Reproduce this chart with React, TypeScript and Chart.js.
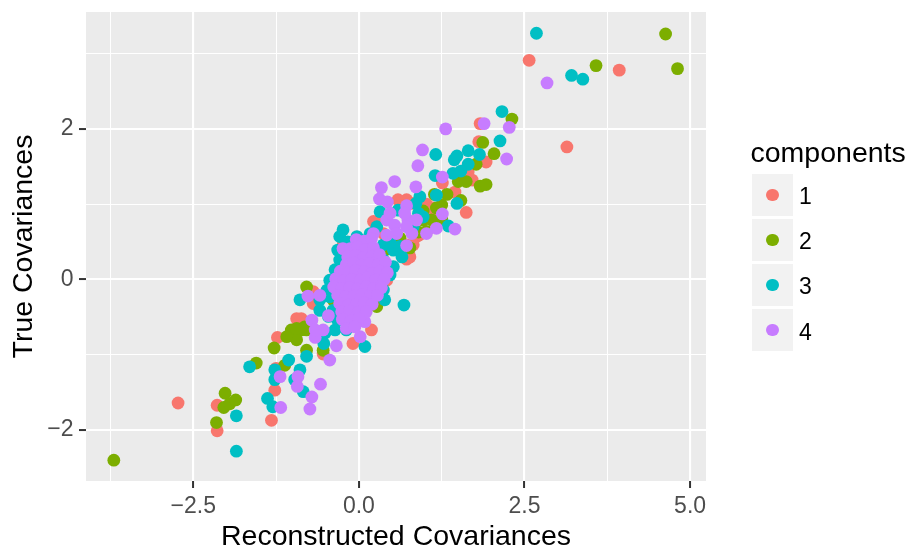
import React, { useEffect, useRef } from "react";
import { Chart, registerables } from "chart.js";

Chart.register(...registerables);

const seriesNames = ["1", "2", "3", "4"];
const seriesColors = ["#F8766D", "#7CAE00", "#00BFC4", "#C77CFF"];

const comp1: number[][] = [
  [2.57, 2.91], [3.93, 2.78], [3.14, 1.76], [1.83, 2.07], [1.81, 1.83], [1.92, 1.56],
  [1.65, 1.43], [1.71, 1.32], [1.26, 1.28], [1.45, 1.16], [1.62, 0.89], [0.72, 1.06],
  [0.59, 1.06], [1.02, 1.0], [1.12, 0.95], [0.8, 1.01], [1.1, 0.92], [0.91, 0.59],
  [0.87, 0.57], [0.72, 0.46], [0.77, 0.3], [0.72, 0.27], [0.22, 0.77], [0.27, 0.75],
  [0.37, 0.61], [0.82, 0.46], [-0.24, 0.46], [0.42, 0.57], [0.42, -0.01], [-0.69, -0.16],
  [-0.69, -0.32], [-0.94, -0.52], [-0.87, -0.52], [0.19, -0.67], [-2.73, -1.64], [-2.14, -1.67],
  [-2.14, -2.01], [-1.23, -0.77], [-1.32, -1.87], [-1.27, -1.47], [-1.25, -1.18], [-0.54, -0.99],
  [-0.09, -0.85], [-0.14, 0.13], [0.09, -0.14], [-0.29, -0.27], [0.24, 0.33], [0.02, -0.47],
];

const comp2: number[][] = [
  [4.63, 3.26], [3.58, 2.84], [4.81, 2.8], [2.31, 2.13], [1.87, 1.82], [2.04, 1.67],
  [1.77, 1.53], [1.5, 1.3], [1.62, 1.3], [1.83, 1.24], [1.92, 1.26], [1.14, 1.13],
  [1.33, 1.13], [1.54, 1.05], [0.97, 0.91], [1.17, 0.95], [1.25, 0.99], [0.97, 0.79],
  [1.1, 0.79], [1.25, 0.81], [1.02, 0.64], [0.9, 0.63], [0.77, 0.42], [0.62, 0.55],
  [-3.7, -2.4], [-2.02, -1.51], [-2.04, -1.7], [-1.95, -1.65], [-1.86, -1.6], [-2.15, -1.9],
  [-1.55, -1.11], [-1.28, -0.91], [-1.12, -1.14], [-0.79, -0.94], [-0.54, -0.94], [-1.02, -0.67],
  [-0.87, -0.67], [-0.94, -0.8], [-0.79, -0.1], [-0.39, -0.27], [0.27, -0.36], [-0.82, -0.63],
  [-1.09, -0.76], [-0.94, -0.65], [-0.79, -0.67], [-0.06, 0.26], [-0.21, -0.07], [0.17, 0.06],
  [0.39, 0.39], [0.54, 0.46],
];

const comp3: number[][] = [
  [2.68, 3.27], [3.21, 2.71], [3.38, 2.66], [2.16, 2.23], [2.13, 1.84], [1.16, 1.66],
  [1.65, 1.71], [1.82, 1.66], [1.48, 1.64], [1.44, 1.59], [1.65, 1.53], [1.54, 1.44],
  [1.42, 1.41], [1.15, 1.38], [1.17, 1.12], [1.48, 1.01], [0.92, 1.1], [0.86, 1.01],
  [0.9, 0.88], [1.35, 0.71], [0.65, 0.3], [0.68, -0.34], [0.59, 0.92], [0.97, 0.83],
  [0.82, 0.7], [0.37, 0.46], [0.52, 0.39], [0.37, 0.26], [0.52, 0.17], [0.32, 0.9],
  [-0.24, 0.66], [-0.29, 0.57], [0.27, 0.7], [0.17, 0.61], [0.04, 0.52], [0.47, 0.5],
  [0.62, 0.44], [0.29, 0.39], [-0.29, 0.26], [-0.03, 0.57], [-0.89, -0.27], [-0.59, -0.41],
  [-0.44, -0.23], [0.37, -0.14], [0.32, 0.22], [-0.36, -0.67], [-0.19, -0.67], [-1.85, -1.81],
  [-1.85, -2.28], [-1.65, -1.16], [-1.38, -1.58], [-1.3, -1.69], [-1.27, -1.33], [-1.27, -1.2],
  [-1.06, -1.07], [-0.89, -1.2], [-0.97, -1.33], [-0.84, -1.49], [-0.79, -1.02], [-0.53, -0.85],
  [0.09, -0.89], [-0.46, -0.49], [-0.51, -0.71], [-0.36, 0.13], [-0.44, -0.01], [-0.48, -0.14],
  [-0.32, 0.39], [-0.21, 0.33], [-0.17, 0.5], [-0.26, 0.06], [-0.39, -0.41], [-0.32, -0.54],
  [0.47, 0.06], [0.39, -0.27], [0.02, -0.14], [-0.59, -0.27],
];

const comp4: number[][] = [
  [2.84, 2.61], [2.27, 2.02], [1.89, 2.07], [1.31, 2.0], [0.96, 1.72], [2.23, 1.6],
  [0.89, 1.51], [1.26, 1.36], [0.86, 1.23], [0.72, 0.98], [1.26, 0.87], [0.74, 0.79],
  [0.87, 0.79], [0.69, 0.88], [1.45, 0.67], [1.17, 0.68], [1.02, 0.61], [0.8, 0.61],
  [0.72, 0.45], [0.54, 1.3], [0.34, 1.22], [0.31, 1.07], [0.43, 1.03], [0.42, 0.79],
  [0.54, 0.72], [0.47, 0.88], [0.72, 0.7], [0.57, 0.61], [0.42, 0.59], [0.22, 0.61],
  [-0.03, 0.52], [0.12, 0.44], [-0.24, 0.41], [-0.03, 0.26], [0.27, 0.22], [0.17, 0.39],
  [-0.77, -0.22], [-0.59, -0.21], [-0.71, -0.54], [-0.46, -0.48], [-0.54, -0.67], [-0.66, -0.77],
  [0.02, -0.76], [-1.18, -1.7], [-1.19, -1.29], [-0.93, -1.42], [-0.92, -1.29], [-0.71, -1.56],
  [-0.74, -1.72], [-0.58, -1.39], [-0.44, -1.07], [-0.34, -0.88], [-0.66, -0.67], [0.09, -0.56],
  [-0.04, 0.53], [0.08, 0.51], [0.19, 0.54],
  [-0.13, 0.41], [-0.02, 0.43], [0.1, 0.4], [0.22, 0.42],
  [-0.17, 0.3], [-0.05, 0.32], [0.07, 0.29], [0.2, 0.31], [0.31, 0.33],
  [-0.19, 0.2], [-0.08, 0.22], [0.04, 0.19], [0.16, 0.21], [0.29, 0.2], [0.4, 0.23],
  [-0.28, 0.11], [-0.16, 0.09], [-0.05, 0.12], [0.08, 0.1], [0.19, 0.08], [0.32, 0.11], [0.43, 0.09],
  [-0.35, 0.01], [-0.23, -0.02], [-0.11, 0.0], [0.02, -0.01], [0.13, 0.02], [0.25, -0.01], [0.38, 0.0],
  [-0.38, -0.1], [-0.26, -0.12], [-0.14, -0.11], [-0.02, -0.13], [0.11, -0.1], [0.22, -0.12], [0.34, -0.11],
  [-0.32, -0.21], [-0.2, -0.23], [-0.07, -0.22], [0.05, -0.2], [0.17, -0.23], [0.28, -0.21],
  [-0.29, -0.32], [-0.16, -0.34], [-0.04, -0.33], [0.08, -0.31], [0.2, -0.33],
  [-0.26, -0.43], [-0.14, -0.42], [-0.01, -0.44], [0.11, -0.43],
  [-0.25, -0.53], [-0.12, -0.55], [0.0, -0.52],
  [-0.19, -0.65], [-0.06, -0.63],
];

const seriesData = [comp1, comp2, comp3, comp4];

const xTickValues = [-3.75, -2.5, -1.25, 0, 1.25, 2.5, 3.75, 5];
const xTickLabels = ["", "\u22122.5", "", "0.0", "", "2.5", "", "5.0"];
const yTickValues = [-2, -1, 0, 1, 2, 3];
const yTickLabels = ["\u22122", "", "0", "", "2", ""];

const xRange = [-4.12, 5.24];
const yRange = [-2.676, 3.552];

const FONT = "'Liberation Sans', Arial, Helvetica, sans-serif";

const panelBackground = {
  id: "panelBackground",
  beforeDraw(chart: any) {
    const { ctx, chartArea } = chart;
    if (!chartArea) return;
    ctx.save();
    ctx.fillStyle = "#EBEBEB";
    ctx.fillRect(chartArea.left, chartArea.top, chartArea.right - chartArea.left, chartArea.bottom - chartArea.top);
    ctx.restore();
  },
};

function isMajor(labels: string[], values: number[], v: number) {
  const i = values.indexOf(v);
  return i >= 0 && labels[i] !== "";
}

function zeroPadding(scale: any) {
  scale.paddingTop = 0;
  scale.paddingBottom = 0;
  scale.paddingLeft = 0;
  scale.paddingRight = 0;
}

export default function App() {
  const canvasRef = useRef<HTMLCanvasElement | null>(null);

  useEffect(() => {
    document.body.style.margin = "0";
    const canvas = canvasRef.current;
    if (!canvas) return;
    const chart = new Chart(canvas, {
      type: "scatter",
      data: {
        datasets: seriesData.map((pts, i) => ({
          label: seriesNames[i],
          data: pts.map(([x, y]) => ({ x, y })),
          backgroundColor: seriesColors[i],
          borderColor: seriesColors[i],
          borderWidth: 0,
          pointRadius: 6.4,
          pointHoverRadius: 6.4,
          order: 4 - i,
        })),
      },
      options: {
        animation: false,
        responsive: false,
        devicePixelRatio: 1,
        events: [],
        layout: { padding: { left: 0, right: 203, top: 12, bottom: 0 } },
        plugins: {
          legend: { display: false },
          tooltip: { enabled: false },
        },
        scales: {
          x: {
            type: "linear",
            min: xRange[0],
            max: xRange[1],
            afterBuildTicks: (scale: any) => {
              scale.ticks = xTickValues.map((v) => ({ value: v }));
            },
            afterFit: (scale: any) => {
              scale.height = 67;
              zeroPadding(scale);
            },
            ticks: {
              autoSkip: false,
              maxRotation: 0,
              padding: 4.5,
              color: "#4D4D4D",
              font: { family: FONT, size: 23 },
              callback: (_v: any, idx: number) => xTickLabels[idx] ?? "",
            },
            grid: {
              color: "#FFFFFF",
              lineWidth: (c: any) => (isMajor(xTickLabels, xTickValues, c.tick?.value) ? 2.1 : 1.05),
              tickColor: (c: any) => (isMajor(xTickLabels, xTickValues, c.tick?.value) ? "#333333" : "rgba(0,0,0,0)"),
              tickLength: 7,
              tickWidth: 2,
              drawTicks: true,
            },
            border: { display: false },
            title: {
              display: true,
              text: "Reconstructed Covariances",
              color: "#000000",
              font: { family: FONT, size: 28.5, lineHeight: 1 },
              padding: { top: 0, bottom: -3 },
            },
          },
          y: {
            type: "linear",
            min: yRange[0],
            max: yRange[1],
            afterBuildTicks: (scale: any) => {
              scale.ticks = yTickValues.map((v) => ({ value: v }));
            },
            afterFit: (scale: any) => {
              scale.width = 86;
              zeroPadding(scale);
            },
            ticks: {
              autoSkip: false,
              padding: 5.5,
              color: "#4D4D4D",
              font: { family: FONT, size: 23 },
              callback: (_v: any, idx: number) => yTickLabels[idx] ?? "",
            },
            grid: {
              color: "#FFFFFF",
              lineWidth: (c: any) => (isMajor(yTickLabels, yTickValues, c.tick?.value) ? 2.1 : 1.05),
              tickColor: (c: any) => (isMajor(yTickLabels, yTickValues, c.tick?.value) ? "#333333" : "rgba(0,0,0,0)"),
              tickLength: 7,
              tickWidth: 2,
              drawTicks: true,
            },
            border: { display: false },
            title: {
              display: true,
              text: "True Covariances",
              color: "#000000",
              font: { family: FONT, size: 28.5, lineHeight: 1 },
              padding: { top: 10, bottom: 0 },
            },
          },
        },
      },
      plugins: [panelBackground],
    } as any);
    return () => chart.destroy();
  }, []);

  const keyTop = 173.5;
  const keyStep = 45.2;

  return (
    <div style={{ position: "relative", width: 909, height: 548, background: "#FFFFFF", overflow: "hidden" }}>
      <canvas ref={canvasRef} width={909} height={548} style={{ position: "absolute", left: 0, top: 0 }} />
      <div
        style={{
          position: "absolute",
          left: 750.5,
          top: 138,
          fontFamily: FONT,
          fontSize: 28.5,
          lineHeight: "28.5px",
          color: "#000",
          whiteSpace: "nowrap",
        }}
      >
        components
      </div>
      {seriesNames.map((name, i) => {
        const top = keyTop + keyStep * i;
        return (
          <React.Fragment key={name}>
            <div
              style={{
                position: "absolute",
                left: 751.7,
                top,
                width: 41.6,
                height: 42,
                background: "#F2F2F2",
              }}
            >
              <div
                style={{
                  position: "absolute",
                  left: 14.6,
                  top: 15,
                  width: 12.4,
                  height: 12.4,
                  borderRadius: "50%",
                  background: seriesColors[i],
                }}
              />
            </div>
            <div
              style={{
                position: "absolute",
                left: 799,
                top: top + 1.5,
                height: 42,
                lineHeight: "42px",
                fontFamily: FONT,
                fontSize: 23,
                color: "#000",
              }}
            >
              {name}
            </div>
          </React.Fragment>
        );
      })}
    </div>
  );
}
